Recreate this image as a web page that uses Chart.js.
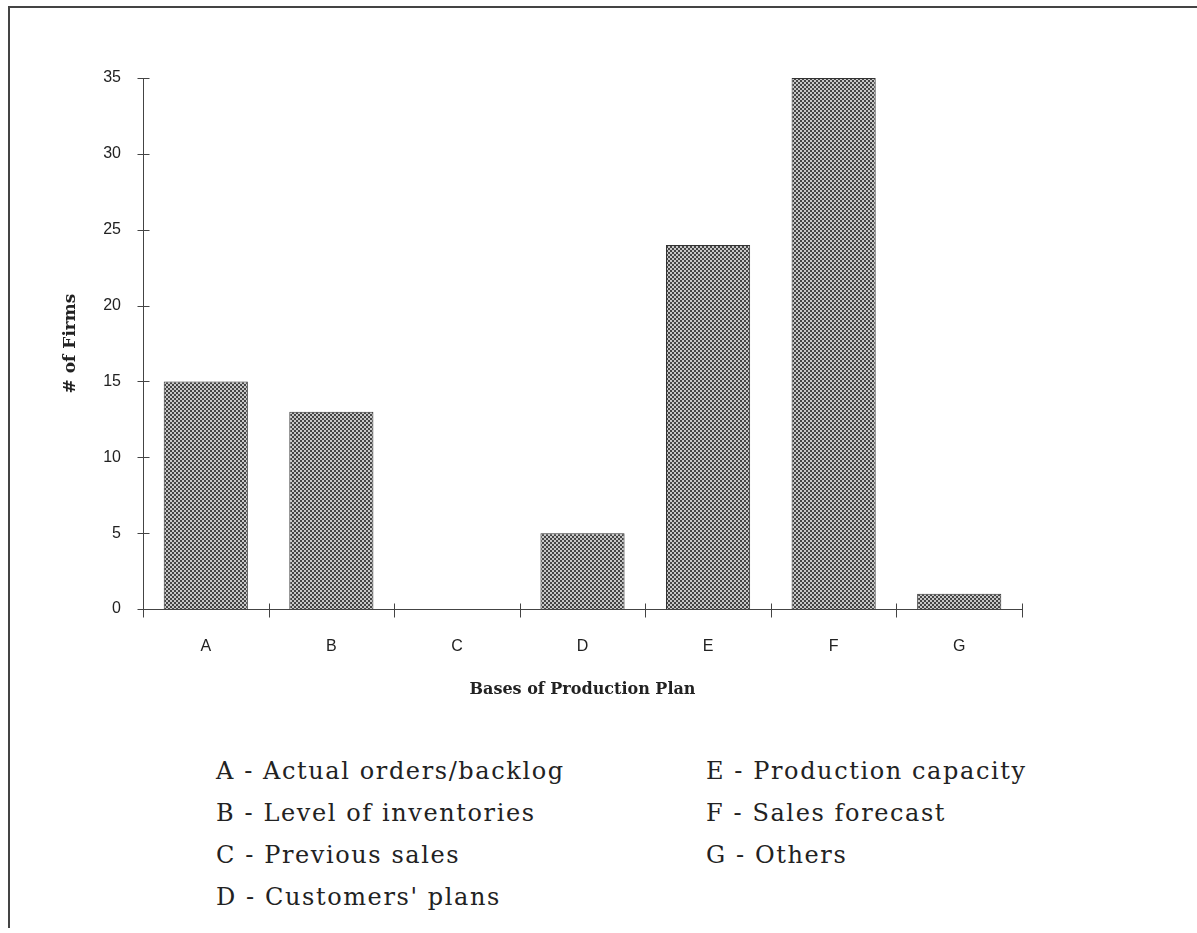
<!DOCTYPE html>
<html>
<head>
<meta charset="utf-8">
<script src="https://cdn.jsdelivr.net/npm/chart.js@4.4.1/dist/chart.umd.min.js"></script>
<style>
    html, body { margin: 0; padding: 0; background: #fff; }
    body { width: 1197px; height: 933px; position: relative; overflow: hidden; }
    #frame { position: absolute; left: 8px; top: 6px; width: 1200px; height: 920px; border-top: 2px solid #444; border-left: 2px solid #444; }
    #wrap { position: absolute; left: 0; top: 0; width: 1197px; height: 730px; }
    .leyenda { position: absolute; font-family: "DejaVu Serif", serif; font-size: 24px; letter-spacing: 1.6px; color: #222; line-height: 42px; }
    .leyenda div { white-space: nowrap; }
</style>
</head>
<body>
<div id="frame"></div>
<div id="wrap"><canvas id="chartBases"></canvas></div>
<div class="leyenda" id="leyendaIzq" style="left: 216px; top: 750px;"></div>
<div class="leyenda" id="leyendaDer" style="left: 706px; top: 750px;"></div>
<script>
const categorias = ['A', 'B', 'C', 'D', 'E', 'F', 'G'];
const firmas = [15, 13, 0, 5, 24, 35, 1];
const descripciones = [
    'Actual orders/backlog',
    'Level of inventories',
    'Previous sales',
    "Customers' plans",
    'Production capacity',
    'Sales forecast',
    'Others'
];
const ticksY = [0, 5, 10, 15, 20, 25, 30, 35];

function crearPatron() {
    const c = document.createElement('canvas');
    c.width = 4;
    c.height = 4;
    const g = c.getContext('2d');
    g.fillStyle = '#c8c8c8';
    g.fillRect(0, 0, 4, 4);
    g.fillStyle = '#454545';
    g.fillRect(0, 0, 2, 2);
    g.fillRect(2, 2, 2, 2);
    return g.createPattern(c, 'repeat');
}

// ejes con marcas que cruzan la linea, como en el original
const ejesPlugin = {
    id: 'ejes',
    afterDatasetsDraw(chart) {
        const ctx = chart.ctx;
        const x = chart.scales.x;
        const y = chart.scales.y;
        const x0 = x.left + 0.5;
        const y0 = Math.round(y.getPixelForValue(0)) + 0.5;
        ctx.save();
        ctx.strokeStyle = '#444';
        ctx.lineWidth = 1;
        ctx.beginPath();
        ctx.moveTo(x0, Math.round(y.getPixelForValue(35)) + 0.5);
        ctx.lineTo(x0, y0);
        ctx.lineTo(x.right, y0);
        ticksY.forEach(v => {
            const py = Math.round(y.getPixelForValue(v)) + 0.5;
            ctx.moveTo(x0 - 6, py);
            ctx.lineTo(x0 + 6, py);
        });
        for (let i = 0; i <= categorias.length; i++) {
            const px = Math.round(x.getPixelForValue(i - 0.5)) + 0.5;
            ctx.moveTo(px, y0 - 6);
            ctx.lineTo(px, y0 + 8);
        }
        ctx.stroke();
        ctx.restore();
    }
};

function cargarLeyenda() {
    const izq = document.getElementById('leyendaIzq');
    const der = document.getElementById('leyendaDer');
    categorias.forEach((c, i) => {
        const div = document.createElement('div');
        div.textContent = `${c} - ${descripciones[i]}`;
        (i < 4 ? izq : der).appendChild(div);
    });
}

document.addEventListener('DOMContentLoaded', function() {
    cargarLeyenda();

    const ctx = document.getElementById('chartBases').getContext('2d');
    new Chart(ctx, {
        type: 'bar',
        data: {
            labels: categorias,
            datasets: [{
                label: '# of Firms',
                data: firmas,
                backgroundColor: crearPatron(),
                borderColor: '#333',
                borderWidth: 1,
                borderSkipped: 'bottom',
                barPercentage: 0.67,
                categoryPercentage: 1
            }]
        },
        options: {
            responsive: true,
            maintainAspectRatio: false,
            animation: false,
            layout: { padding: { top: 78, right: 175, bottom: 0, left: 0 } },
            plugins: {
                legend: { display: false },
                tooltip: { enabled: false }
            },
            scales: {
                x: {
                    grid: { display: false, drawTicks: false },
                    border: { display: false },
                    ticks: {
                        padding: 28,
                        color: '#222',
                        font: { family: 'Liberation Sans', size: 16 }
                    },
                    title: {
                        display: true,
                        text: 'Bases of Production Plan',
                        color: '#222',
                        font: { family: 'DejaVu Serif', size: 16, weight: 'bold' },
                        padding: { top: 0, bottom: 31 }
                    },
                    afterFit: s => { s.height = 730 - 609; }
                },
                y: {
                    min: 0,
                    max: 35,
                    grid: { display: false, drawTicks: false },
                    border: { display: false },
                    ticks: {
                        stepSize: 5,
                        padding: 22,
                        color: '#222',
                        font: { family: 'Liberation Sans', size: 16 }
                    },
                    title: {
                        display: true,
                        text: '# of Firms',
                        color: '#222',
                        font: { family: 'DejaVu Serif', size: 17, weight: 'bold' },
                        padding: { top: 60, bottom: 0 }
                    },
                    afterFit: s => { s.width = 143; }
                }
            }
        },
        plugins: [ejesPlugin]
    });
});
</script>
</body>
</html>
